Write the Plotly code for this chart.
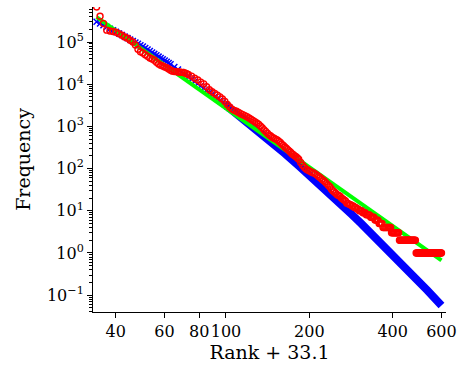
import math
import plotly.graph_objects as go

# ---- data ----
red_rank = list(range(1, 41)) + list(range(42, 151, 2)) + list(range(153, 568, 3))
red_freq = [
    676000, 407000, 275000, 191000, 182000, 178000, 170000, 158000, 145000, 132000,
    123000, 110000, 100000, 85100, 67600, 58900, 55000, 50100, 45700, 41700,
    39800, 37200, 33100, 30200, 28200, 26900, 25700, 24500, 22900, 21400,
    20400, 20000, 19900, 19500, 19400, 19100, 18900, 18600, 17800, 17000,
    # ranks 42..150 step 2
    15500, 13800, 12600, 11200, 10200, 8700, 7400, 6600, 6000, 5500,
    5000, 4470, 3890, 3310, 2880, 2570, 2400, 2290, 2140, 2000,
    1900, 1780, 1700, 1580, 1480, 1380, 1290, 1200, 1120, 1020,
    930, 830, 760, 690, 630, 590, 550, 525, 500, 479,
    447, 417, 380, 355, 324, 302, 282, 263, 245, 224,
    214, 200, 191, 178, 166,
    # ranks 153..567 step 3
    140, 120, 106, 97, 91, 86, 82, 79, 75, 70,
    65, 61, 56, 52, 48, 44, 40, 37, 33, 30,
    28, 26, 24, 23, 22, 20, 19, 18, 17, 15,
    15, 14, 14, 13, 13, 12, 12, 11, 11, 10,
    10, 10, 9, 9, 9, 8, 8, 8, 8, 7,
    7, 7, 7, 6, 6, 6, 6, 5, 5, 5,
    5,
    4, 4, 4, 4, 4, 4, 4, 4, 4,
    3, 3, 3, 3, 3, 3, 3, 3, 3,
    2, 2, 2, 2, 2, 2, 2, 2, 2, 2, 2, 2, 2, 2, 2, 2, 2, 2, 2, 2, 2,
    1, 1, 1, 1, 1, 1, 1, 1, 1, 1, 1, 1, 1, 1, 1, 1, 1, 1, 1, 1,
    1, 1, 1, 1, 1, 1, 1, 1, 1, 1, 1, 1, 1, 1, 1, 1, 1, 1, 1,
]

blue_mark_rank = list(range(1, 31)) + list(range(32, 71, 2))
blue_mark_freq = [
    302000, 273800, 248900, 226800, 207300, 189700, 174200, 159300, 146100, 134300,
    123700, 114000, 105400, 97500, 90500, 83900, 78100, 71900, 66300, 61200,
    56560, 52360, 48560, 45110, 41930, 39030, 36360, 33950, 31700, 29650,
    25600, 22210, 19330, 16910, 14850, 13085, 11550, 10240, 9057, 8017,
    7121, 6339, 5655, 5064, 4545, 4083, 3681, 3322, 2999, 2710,
]
blue_line_rank = [66, 70, 80, 90, 100, 115, 130, 150, 167, 185, 200, 225, 250, 275,
                  300, 333, 367, 400, 450, 500, 567]
blue_line_freq = [3322, 2710, 1674, 1078, 706, 392.6, 228.8, 117.0, 69.96, 41.7, 28.0,
                  15.06, 8.41, 4.93, 2.99, 1.617, 0.906, 0.533, 0.2566, 0.1301, 0.057]

green_rank = [1, 67, 167, 367, 567]
green_freq = [389000, 2661, 107.7, 4.35, 0.667]

shift = 33.1
x_ticks = [40, 60, 80, 100, 200, 400, 600]
y_ticks = [0.1, 1, 10, 100, 1000, 10000, 100000]
y_ticktext = ["10<sup>\u22121</sup>", "10<sup>0</sup>", "10<sup>1</sup>", "10<sup>2</sup>",
              "10<sup>3</sup>", "10<sup>4</sup>", "10<sup>5</sup>"]

n = min(len(red_rank), len(red_freq))
red_x = [r + shift for r in red_rank[:n]]
red_y = red_freq[:n]

minor_vals = [m * 10.0 ** k for k in range(-2, 6) for m in range(2, 10)]

FONT = "DejaVu Serif"

fig = go.Figure()
fig.add_trace(go.Scatter(
    x=[r + shift for r in blue_line_rank], y=blue_line_freq, mode="lines",
    line=dict(color="#0000ff", width=8), showlegend=False, hoverinfo="skip"))
fig.add_trace(go.Scatter(
    x=[r + shift for r in blue_mark_rank], y=blue_mark_freq, mode="markers",
    marker=dict(symbol="x-thin-open", size=6, color="#0000ff",
                line=dict(color="#0000ff", width=1.5)), showlegend=False))
fig.add_trace(go.Scatter(
    x=[r + shift for r in green_rank], y=green_freq, mode="lines",
    line=dict(color="#00ff00", width=4), showlegend=False))
fig.add_trace(go.Scatter(
    x=red_x, y=red_y, mode="markers",
    marker=dict(symbol="circle-open", size=6, color="#ff0000",
                line=dict(color="#ff0000", width=1.4)), showlegend=False))

fig.update_layout(
    width=464, height=366,
    margin=dict(l=93, r=13, t=7, b=54),
    paper_bgcolor="white", plot_bgcolor="white",
    font=dict(family=FONT, color="black", size=16),
    showlegend=False,
)
fig.update_xaxes(
    type="log", range=[math.log10(33.1), math.log10(623.1)],
    tickmode="array", tickvals=x_ticks, ticktext=[str(v) for v in x_ticks],
    tickangle=0,
    ticks="outside", ticklen=5, tickwidth=1, tickcolor="black",
    showline=True, linecolor="black", linewidth=1,
    showgrid=False, zeroline=False,
    tickfont=dict(family=FONT, size=16, color="black"),
    title=dict(text="Rank + 33.1", font=dict(family=FONT, size=19, color="black"), standoff=4),
)
fig.update_yaxes(
    type="log", range=[-1.40, 5.83],
    tickmode="array", tickvals=y_ticks, ticktext=y_ticktext,
    ticks="outside", ticklen=5, tickwidth=1, tickcolor="black",
    minor=dict(tickmode="array", tickvals=minor_vals, ticks="outside", ticklen=3,
               tickcolor="black", tickwidth=1, showgrid=False),
    showline=True, linecolor="black", linewidth=1,
    showgrid=False, zeroline=False,
    tickfont=dict(family=FONT, size=16, color="black"),
    title=dict(text="Frequency", font=dict(family=FONT, size=19, color="black"), standoff=11),
)

fig.write_html("out.html", config={"displayModeBar": False},
               post_script="document.body.style.margin='0';")
